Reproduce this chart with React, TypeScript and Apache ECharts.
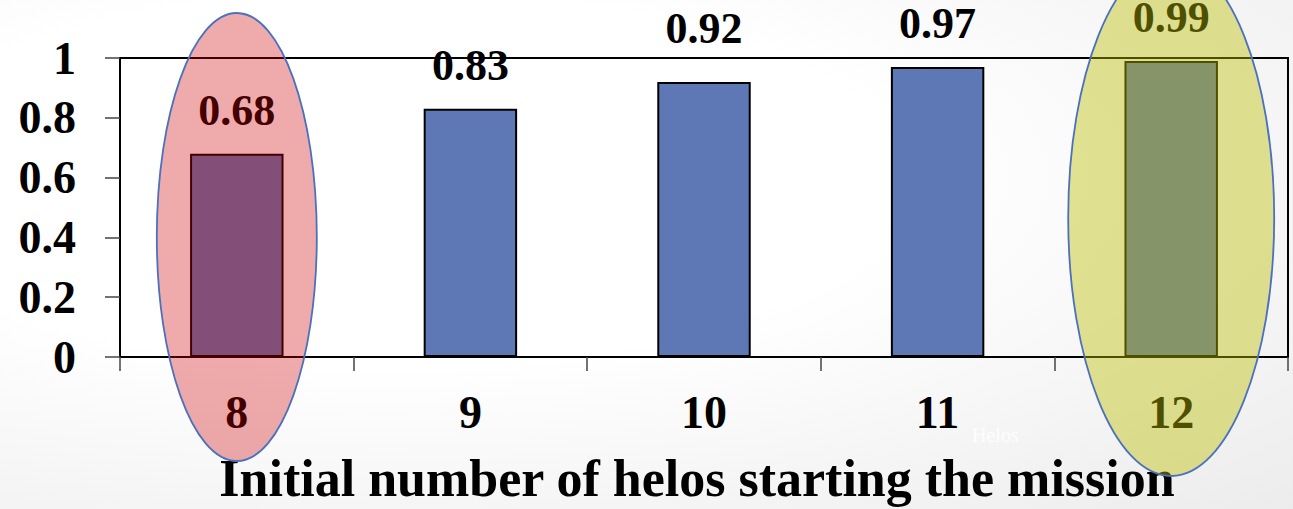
import React, { useEffect, useRef } from "react";
import * as echarts from "echarts";

// Mission success fraction by initial fleet size
const categories = ["8", "9", "10", "11", "12"];
const successRate = [0.68, 0.83, 0.92, 0.97, 0.99];
const yTicks = [0, 0.2, 0.4, 0.6, 0.8, 1];
const axisTitle = "Initial number of helos starting the mission";
const watermark = "Helos";
const lowHighlight = "8";
const highHighlight = "12";

const FONT = "'Liberation Serif', 'Times New Roman', serif";
const LABEL_DISTANCE = 21;
// the "10" label sits a little higher than the others
const raisedLabel = "10";

export default function App() {
  const ref = useRef<HTMLDivElement>(null);

  useEffect(() => {
    document.body.style.margin = "0";
    const chart = echarts.init(ref.current!, null, { renderer: "svg" });

    const textBase = {
      color: "#000",
      fontFamily: FONT,
      fontWeight: "bold",
      fontSize: 46,
    };

    const barData = successRate.map((v, i) =>
      categories[i] === raisedLabel
        ? { value: v, label: { distance: LABEL_DISTANCE + 10 } }
        : v
    );

    chart.setOption({
      animation: false,
      backgroundColor: "transparent",
      grid: {
        left: 120,
        right: 5,
        top: 58,
        bottom: 150,
        show: true,
        borderColor: "#000",
        borderWidth: 2,
        backgroundColor: "transparent",
      },
      xAxis: {
        type: "category",
        data: categories,
        boundaryGap: true,
        axisLine: { show: true, lineStyle: { color: "#000", width: 2 } },
        axisTick: { show: true, length: 14, lineStyle: { color: "#444", width: 1.5 } },
        axisLabel: { ...textBase, margin: 32 },
        splitLine: { show: false },
        name: axisTitle,
        nameLocation: "middle",
        nameGap: 95,
        nameTextStyle: {
          ...textBase,
          fontSize: 52,
          padding: [0, 14, 0, 0],
        },
      },
      yAxis: {
        type: "value",
        min: yTicks[0],
        max: yTicks[yTicks.length - 1],
        interval: yTicks[1] - yTicks[0],
        splitLine: { show: false },
        axisLine: { show: true, lineStyle: { color: "#000", width: 2 } },
        axisTick: { show: true, length: 15, lineStyle: { color: "#444", width: 1.5 } },
        axisLabel: { ...textBase, margin: 44 },
      },
      series: [
        {
          type: "bar",
          data: barData,
          barWidth: "40%",
          itemStyle: { color: "#5E77B5", borderColor: "#000", borderWidth: 2 },
          label: {
            show: true,
            position: "top",
            distance: LABEL_DISTANCE,
            ...textBase,
            fontSize: 44,
          },
        },
      ],
    });

    // Translucent highlight ellipses over the lowest and highest fleet sizes
    const lowX = chart.convertToPixel({ xAxisIndex: 0 }, lowHighlight) as number;
    const highX = chart.convertToPixel({ xAxisIndex: 0 }, highHighlight) as number;

    chart.setOption({
      graphic: [
        {
          type: "text",
          z: 1,
          left: 972,
          top: 425,
          style: {
            text: watermark,
            fill: "rgba(255,255,255,0.85)",
            font: `20px ${FONT}`,
          },
        },
        {
          type: "ellipse",
          z: 100,
          shape: { cx: lowX, cy: 237, rx: 80, ry: 224 },
          style: {
            fill: "rgba(205,0,0,0.33)",
            stroke: "#4A70C0",
            lineWidth: 1.8,
          },
        },
        {
          type: "ellipse",
          z: 100,
          shape: { cx: highX, cy: 218, rx: 103, ry: 258 },
          style: {
            fill: "rgba(188,188,0,0.42)",
            stroke: "#4A70C0",
            lineWidth: 1.8,
          },
        },
      ],
    });

    return () => chart.dispose();
  }, []);

  return (
    <div
      style={{
        width: 1293,
        height: 509,
        background:
          "radial-gradient(ellipse at 30% 35%, #ffffff 40%, #ececec 100%)",
      }}
    >
      <div ref={ref} style={{ width: 1293, height: 509 }} />
    </div>
  );
}
